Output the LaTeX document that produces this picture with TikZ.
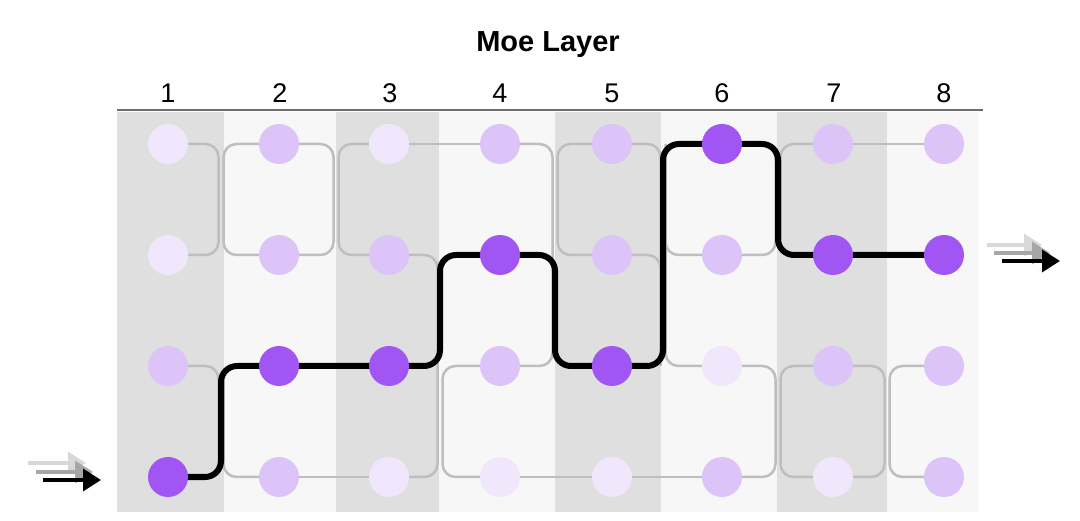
\documentclass[tikz,border=0pt]{standalone}
\usepackage{fontspec}
\setmainfont{Liberation Sans}
\usetikzlibrary{arrows.meta}
\definecolor{dk}{HTML}{A155F3}
\definecolor{md}{HTML}{DCC3F8}
\definecolor{lt}{HTML}{F1E7FC}
\definecolor{stripeD}{HTML}{DFDFDF}
\definecolor{stripeL}{HTML}{F7F7F7}
\definecolor{wire}{HTML}{BEBEBE}
\definecolor{axis}{HTML}{6E6E6E}
\definecolor{ghostA}{HTML}{D8D8D8}
\definecolor{ghostB}{HTML}{A6A6A6}
\pgfdeclarelayer{back}
\pgfdeclarelayer{mid}
\pgfsetlayers{back,mid,main}
\tikzset{
  dot/.style={circle, minimum size=40pt, inner sep=0pt, draw=none},
  greywire/.style={draw=wire, line width=2.5pt, rounded corners=13pt},
  route/.style={draw=black, line width=6pt, rounded corners=16pt, line join=round},
  num/.style={font=\fontsize{27}{30}\selectfont, anchor=base, inner sep=0pt},
  ttl/.style={font=\fontsize{29}{32}\selectfont\bfseries, anchor=base, inner sep=0pt},
  mv/.style={line width=3.5pt, -{Triangle[length=18pt,width=22pt]}}
}
\begin{document}
\begin{tikzpicture}[x=1pt,y=-1pt]
\useasboundingbox (0,0) rectangle (1080,521);
\begin{pgfonlayer}{back}
\fill[white] (0,0) rectangle (1080,521);
\fill[stripeD] (117,112) rectangle (224,512);
\fill[stripeL] (224,112) rectangle (336,512);
\fill[stripeD] (336,112) rectangle (439,512);
\fill[stripeL] (439,112) rectangle (555,512);
\fill[stripeD] (555,112) rectangle (661,512);
\fill[stripeL] (661,112) rectangle (777,512);
\fill[stripeD] (777,112) rectangle (887,512);
\fill[stripeL] (887,112) rectangle (979,512);
\end{pgfonlayer}
% header
\node[ttl] (title) at (548,52) {Moe Layer};
\coordinate (axL) at (117,110);
\coordinate (axR) at (983,110);
\draw[axis, line width=2.5pt] (axL) -- (axR);
\foreach \i/\x in {1/168,2/280,3/390,4/500,5/612,6/722,7/834,8/944}{
  \node[num] (n\i) at (\x,103) {\i};
}
% dots
\node[dot, fill=lt] (c1r1) at (168,144) {};
\node[dot, fill=lt] (c1r2) at (168,255) {};
\node[dot, fill=md] (c1r3) at (168,366) {};
\node[dot, fill=dk] (c1r4) at (168,477) {};
\node[dot, fill=md] (c2r1) at (279,144) {};
\node[dot, fill=md] (c2r2) at (279,255) {};
\node[dot, fill=dk] (c2r3) at (279,366) {};
\node[dot, fill=md] (c2r4) at (279,477) {};
\node[dot, fill=lt] (c3r1) at (389,144) {};
\node[dot, fill=md] (c3r2) at (389,255) {};
\node[dot, fill=dk] (c3r3) at (389,366) {};
\node[dot, fill=lt] (c3r4) at (389,477) {};
\node[dot, fill=md] (c4r1) at (500,144) {};
\node[dot, fill=dk] (c4r2) at (500,255) {};
\node[dot, fill=md] (c4r3) at (500,366) {};
\node[dot, fill=lt] (c4r4) at (500,477) {};
\node[dot, fill=md] (c5r1) at (612,144) {};
\node[dot, fill=md] (c5r2) at (612,255) {};
\node[dot, fill=dk] (c5r3) at (612,366) {};
\node[dot, fill=lt] (c5r4) at (612,477) {};
\node[dot, fill=dk] (c6r1) at (722,144) {};
\node[dot, fill=md] (c6r2) at (722,255) {};
\node[dot, fill=lt] (c6r3) at (722,366) {};
\node[dot, fill=md] (c6r4) at (722,477) {};
\node[dot, fill=md] (c7r1) at (833,144) {};
\node[dot, fill=dk] (c7r2) at (833,255) {};
\node[dot, fill=md] (c7r3) at (833,366) {};
\node[dot, fill=lt] (c7r4) at (833,477) {};
\node[dot, fill=md] (c8r1) at (944,144) {};
\node[dot, fill=dk] (c8r2) at (944,255) {};
\node[dot, fill=md] (c8r3) at (944,366) {};
\node[dot, fill=md] (c8r4) at (944,477) {};
\begin{pgfonlayer}{mid}
% boundary 1-2
\draw[greywire] (c1r1.center) -- (218.5,144) -- (218.5,255) -- (c1r2.center);
\draw[greywire] (c2r1.center) -- (223.5,144) -- (223.5,255) -- (c2r2.center);
\draw[greywire] (c1r3.center) -- (218.5,366) -- (218.5,477) -- (c1r4.center);
\draw[greywire] (c2r3.center) -- (223.5,366) -- (223.5,477) -- (c2r4.center);
% boundary 2-3
\draw[greywire] (c2r1.center) -- (333.5,144) -- (333.5,255) -- (c2r2.center);
\draw[greywire] (c3r1.center) -- (338.5,144) -- (338.5,255) -- (c3r2.center);
\draw[greywire] (c2r4.center) -- (c3r4.center);
% boundary 3-4
\draw[greywire] (c3r1.center) -- (c4r1.center);
\draw[greywire] (c3r2.center) -- (437.5,255) -- (437.5,477) -- (c3r4.center);
\draw[greywire] (c4r3.center) -- (442.5,366) -- (442.5,477) -- (c4r4.center);
% boundary 4-5
\draw[greywire] (c4r1.center) -- (552.5,144) -- (552.5,366) -- (c4r3.center);
\draw[greywire] (c5r1.center) -- (557.5,144) -- (557.5,255) -- (c5r2.center);
\draw[greywire] (c4r4.center) -- (c5r4.center);
% boundary 5-6
\draw[greywire] (c5r1.center) -- (660.5,144) -- (660.5,366) -- (c5r3.center);
\draw[greywire] (c5r2.center) -- (660.5,255) -- (660.5,366);
\draw[greywire] (c6r2.center) -- (665.5,255) -- (665.5,144) -- (c6r1.center);
\draw[greywire] (c6r3.center) -- (665.5,366) -- (665.5,144);
\draw[greywire] (c5r4.center) -- (c6r4.center);
% boundary 6-7
\draw[greywire] (c6r2.center) -- (775.5,255) -- (775.5,144) -- (c6r1.center);
\draw[greywire] (c7r1.center) -- (780.5,144) -- (780.5,255) -- (c7r2.center);
\draw[greywire] (c6r3.center) -- (775.5,366) -- (775.5,477) -- (c6r4.center);
\draw[greywire] (c7r3.center) -- (780.5,366) -- (780.5,477) -- (c7r4.center);
% boundary 7-8
\draw[greywire] (c7r1.center) -- (c8r1.center);
\draw[greywire] (c7r3.center) -- (884.5,366) -- (884.5,477) -- (c7r4.center);
\draw[greywire] (c8r3.center) -- (889.5,366) -- (889.5,477) -- (c8r4.center);
% routed path
\draw[route] (c1r4.center) -- (221,477) -- (221,366) -- (c2r3.center) -- (c3r3.center)
  -- (440,366) -- (440,255) -- (c4r2.center) -- (555,255) -- (555,366) -- (c5r3.center)
  -- (663,366) -- (663,144) -- (c6r1.center) -- (778,144) -- (778,255) -- (c7r2.center) -- (c8r2.center);
\end{pgfonlayer}
% input arrows
\coordinate (inAs) at (28,463); \coordinate (inAe) at (86,463);
\coordinate (inBs) at (36,472); \coordinate (inBe) at (93,472);
\coordinate (inCs) at (43,480); \coordinate (inCe) at (101,480);
\draw[mv, ghostA] (inAs) -- (inAe);
\draw[mv, ghostB] (inBs) -- (inBe);
\draw[mv, black] (inCs) -- (inCe);
% output arrows
\coordinate (outAs) at (987,245); \coordinate (outAe) at (1042,245);
\coordinate (outBs) at (994,253); \coordinate (outBe) at (1050,253);
\coordinate (outCs) at (1002,261); \coordinate (outCe) at (1060,261);
\draw[mv, ghostA] (outAs) -- (outAe);
\draw[mv, ghostB] (outBs) -- (outBe);
\draw[mv, black] (outCs) -- (outCe);
\end{tikzpicture}
\end{document}
